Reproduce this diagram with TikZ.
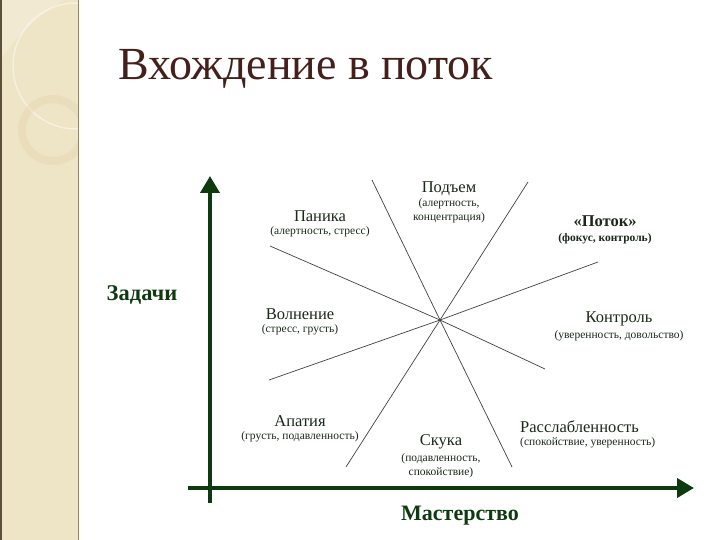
\documentclass[tikz,border=0pt]{standalone}
\usepackage{fontspec}
\setmainfont{Liberation Serif}
\usetikzlibrary{arrows.meta}
\definecolor{eixo}{HTML}{0E3A10}
\definecolor{faixa}{HTML}{EEE4C6}
\definecolor{borda}{HTML}{9A8660}
\definecolor{titulo}{HTML}{45201A}
\definecolor{texto}{HTML}{1A271A}

\begin{document}
\begin{tikzpicture}[x=1pt,y=-1pt,
  estado/.style={font=\fontsize{16.5}{16.5}\selectfont,text=texto,inner sep=0pt},
  nota/.style={font=\fontsize{11.5}{14}\selectfont,text=texto,inner sep=0pt,align=center},
  divisa/.style={draw=black!75,line width=0.7pt},
  eixoseta/.style={draw=eixo,line width=4pt,-{Triangle[length=17pt,width=19pt]}}]
\useasboundingbox (0,0) rectangle (720,540);
% Faixa lateral
\fill[faixa] (0,0) rectangle (78,540);
\begin{scope}
\clip (0,0) rectangle (78,540);
\fill[white,opacity=0.2] (0,0) -- (64,0) .. controls (35,18) and (12,40) .. (0,62) -- cycle;
\draw[white,opacity=0.45,line width=1.5pt] (76,66) circle (63);
\draw[faixa!80!brown,opacity=0.35,line width=8pt] (53,130) circle (31);
\end{scope}
\draw[borda,line width=1pt] (78,0) -- (78,540);
\draw[borda!60!black,line width=1.5pt] (0.75,0) -- (0.75,540);
% Titulo
\node[font=\fontsize{46}{46}\selectfont,text=titulo,anchor=base west,inner sep=0pt] (titulo) at (118,80) {Вхождение в поток};
% Eixos
\coordinate (ybase) at (210,503);
\coordinate (ytopo) at (210,176);
\coordinate (xbase) at (188,488);
\coordinate (xfim) at (694,488);
\draw[eixoseta] (ybase) -- (ytopo);
\draw[eixoseta] (xbase) -- (xfim);
\node[font=\bfseries\fontsize{22.5}{22.5}\selectfont,text=eixo] (tarefas) at (142,295) {Задачи};
\node[font=\bfseries\fontsize{22}{22}\selectfont,text=eixo] (dominio) at (460,516) {Мастерство};
% Divisorias
\coordinate (c) at (440,320);
\coordinate (a1) at (372,180);
\coordinate (a2) at (512,467);
\coordinate (b1) at (528,182);
\coordinate (b2) at (346,467);
\coordinate (c1) at (270,246);
\coordinate (c2) at (545,369);
\coordinate (d1) at (269,380);
\coordinate (d2) at (598,262);
\draw[divisa] (a1) -- (c) -- (a2);
\draw[divisa] (b1) -- (c) -- (b2);
\draw[divisa] (c1) -- (c) -- (c2);
\draw[divisa] (d1) -- (c) -- (d2);
% Estados
\node[estado] (subida) at (449,189) {Подъем};
\node[nota] (subidan) at (449,211) {(алертность,\\концентрация)};
\node[estado] (panico) at (320,216) {Паника};
\node[nota] (panicon) at (320,232) {(алертность, стресс)};
\node[estado,font=\bfseries\fontsize{16.5}{16.5}\selectfont] (fluxo) at (605,221) {«Поток»};
\node[nota,font=\bfseries\fontsize{11.5}{13}\selectfont] (fluxon) at (605,239) {(фокус, контроль)};
\node[estado] (excit) at (300,314) {Волнение};
\node[nota] (excitn) at (300,330) {(стресс, грусть)};
\node[estado] (contr) at (619,319) {Контроль};
\node[nota] (contrn) at (619,336) {(уверенность, довольство)};
\node[estado] (apatia) at (300,421) {Апатия};
\node[nota] (apatian) at (300,437) {(грусть, подавленность)};
\node[estado] (tedio) at (441,442) {Скука};
\node[nota] (tedion) at (441,466) {(подавленность,\\спокойствие)};
\node[estado,anchor=west] (relax) at (520,427) {Расслабленность};
\node[nota,anchor=west] (relaxn) at (520,443) {(спокойствие, уверенность)};
\end{tikzpicture}
\end{document}
